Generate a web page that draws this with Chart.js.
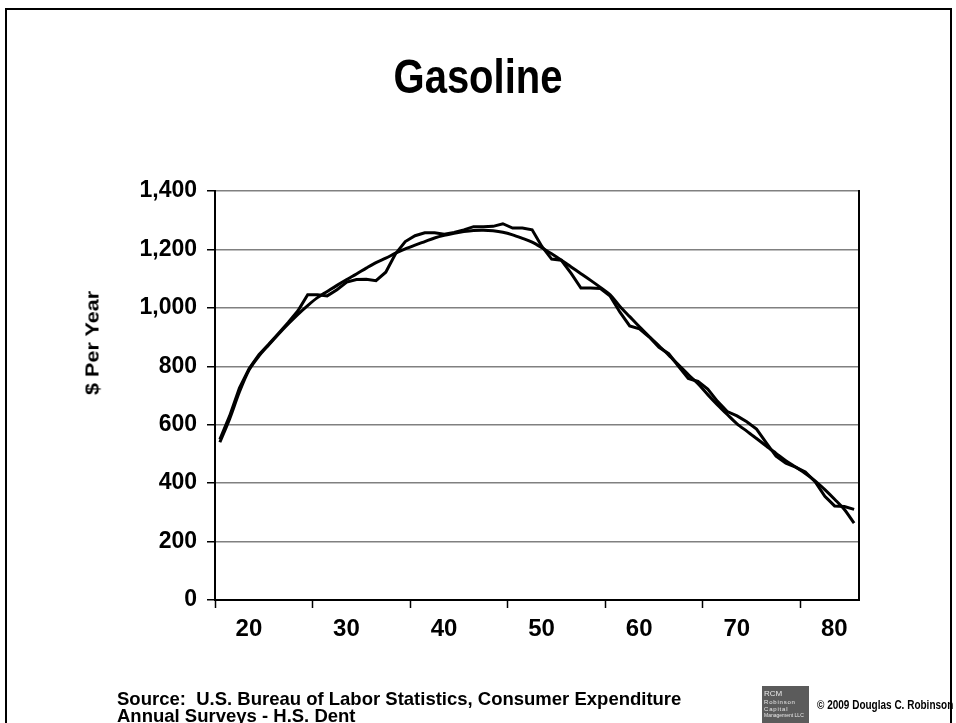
<!DOCTYPE html>
<html>
<head>
<meta charset="utf-8">
<script src="https://cdn.jsdelivr.net/npm/chart.js@4.4.1/dist/chart.umd.min.js"></script>
<style>
  html, body { margin: 0; padding: 0; background: #fff; }
  body { width: 956px; height: 723px; position: relative; overflow: hidden; font-family: 'Liberation Sans', Arial, sans-serif; }
  #frame { position: absolute; left: 5px; top: 8px; width: 947px; height: 800px; border: 2px solid #000; box-sizing: border-box; }
  #wrap { position: absolute; left: 0; top: 0; width: 956px; height: 723px; }
  #title { position: absolute; left: 0; width: 956px; top: 52px; text-align: center; font-weight: bold; font-size: 40px; line-height: 40px; color: #000; transform: scaleY(1.2); transform-origin: 50% 0; }
  #ytitle { position: absolute; left: 93px; top: 343px; transform: translate(-50%, -50%) rotate(-90deg) scale(1.2, 1); white-space: nowrap; font-weight: bold; font-size: 18px; color: #000; }
  #source { position: absolute; left: 117px; top: 690px; font-weight: bold; font-size: 18.5px; line-height: 17px; color: #000; white-space: nowrap; }
  #logo { position: absolute; left: 762px; top: 686px; width: 47px; height: 48px; background: #5b5b5b; color: #e8e8e8; font-size: 6px; line-height: 6.5px; padding: 3px 2px; box-sizing: border-box; letter-spacing: 0.8px; white-space: nowrap; overflow: hidden; }
  #logo .big { font-size: 8px; line-height: 10px; letter-spacing: 0; }
  #logo .small { font-size: 5px; letter-spacing: 0; }
  #copy { position: absolute; left: 817px; top: 698px; font-weight: bold; font-size: 10px; line-height: 12px; color: #000; white-space: nowrap; transform: scaleY(1.2); transform-origin: 0 0; }
</style>
</head>
<body>
<div id="frame"></div>
<div id="wrap"><canvas id="c" width="956" height="723"></canvas></div>
<div id="title">Gasoline</div>
<div id="ytitle">$ Per Year</div>
<div id="source">Source:&nbsp; U.S. Bureau of Labor Statistics, Consumer Expenditure<br>Annual Surveys - H.S. Dent</div>
<div id="logo"><div class="big">RCM</div><div>Robinson</div><div>Capital</div><div class="small">Management LLC</div></div>
<div id="copy">© 2009 Douglas C. Robinson</div>
<script>
const ages = [20,21,22,23,24,25,26,27,28,29,30,31,32,33,34,35,36,37,38,39,40,41,42,43,44,45,46,47,48,49,50,51,52,53,54,55,56,57,58,59,60,61,62,63,64,65,66,67,68,69,70,71,72,73,74,75,76,77,78,79,80,81,82,83,84,85];

const spending = [550,630,725,792,840,875,912,950,990,1045,
                  1045,1041,1062,1088,1097,1098,1093,1122,1185,1227,
                  1247,1257,1257,1252,1258,1267,1278,1278,1279,1288,
                  1273,1273,1267,1210,1167,1163,1118,1068,1068,1066,
                  1040,985,938,928,900,865,843,800,758,748,
                  722,680,645,630,610,585,538,492,468,455,
                  438,405,355,322,320,310];

const trend = [540,620,712,788,835,873,910,945,978,1008,
               1035,1056,1077,1097,1116,1136,1155,1170,1187,1202,
               1215,1227,1239,1248,1255,1261,1265,1266,1264,1259,
               1250,1238,1225,1206,1185,1163,1140,1117,1094,1070,
               1045,1005,970,935,902,870,838,805,772,740,
               703,668,635,603,578,553,527,502,477,455,
               433,408,378,345,310,263];

const yTicks = [0,200,400,600,800,1000,1200,1400];
const xLabelAges = [20,30,40,50,60,70,80];

const TICK_FONT = "'Liberation Sans Narrow', 'Arial Narrow', 'Liberation Sans', Arial, sans-serif";

const rightBorder = {
  id: 'rightBorder',
  afterDatasetsDraw(chart) {
    const { ctx, chartArea } = chart;
    ctx.save();
    ctx.strokeStyle = '#000';
    ctx.lineWidth = 2;
    ctx.beginPath();
    ctx.moveTo(chartArea.right, chartArea.top - 1);
    ctx.lineTo(chartArea.right, chartArea.bottom + 1);
    ctx.stroke();
    ctx.restore();
  }
};

new Chart(document.getElementById('c'), {
  type: 'line',
  data: {
    labels: ages,
    datasets: [
      { label: 'Gasoline', data: spending, borderColor: '#000', borderWidth: 3, pointRadius: 0, tension: 0, fill: false },
      { label: 'Trend', data: trend, borderColor: '#000', borderWidth: 3, pointRadius: 0, tension: 0.3, fill: false }
    ]
  },
  options: {
    responsive: false,
    animation: false,
    devicePixelRatio: 1,
    layout: { padding: { left: 0, right: 97, top: 191, bottom: 0 } },
    plugins: { legend: { display: false }, tooltip: { enabled: false }, title: { display: false } },
    scales: {
      x: {
        type: 'category',
        offset: true,
        grid: {
          display: true, offset: true, drawOnChartArea: false, drawTicks: true, tickLength: 8, tickWidth: 1.5,
          tickColor: (c) => (c.index < ages.length && xLabelAges.includes(ages[c.index])) ? '#000' : 'rgba(0,0,0,0)'
        },
        border: { color: '#000', width: 2 },
        ticks: {
          autoSkip: false, maxRotation: 0, minRotation: 0, padding: 7, color: '#000', labelOffset: 29,
          font: { family: TICK_FONT, size: 24, weight: 'bold' },
          callback: (v, i) => xLabelAges.includes(ages[i]) ? String(ages[i]) : ''
        },
        afterFit: (s) => { s.height = 123; }
      },
      y: {
        min: yTicks[0], max: yTicks[yTicks.length - 1],
        afterBuildTicks: (s) => { s.ticks = yTicks.map(v => ({ value: v })); },
        grid: { color: '#808080', lineWidth: 1.5, drawTicks: true, tickLength: 8, tickColor: '#000' },
        border: { color: '#000', width: 2 },
        ticks: {
          padding: 10, color: '#000',
          font: { family: TICK_FONT, size: 23, weight: 'bold' },
          callback: (v) => Number(v).toLocaleString('en-US')
        },
        afterFit: (s) => { s.width = 215; }
      }
    }
  },
  plugins: [rightBorder]
});
</script>
</body>
</html>
